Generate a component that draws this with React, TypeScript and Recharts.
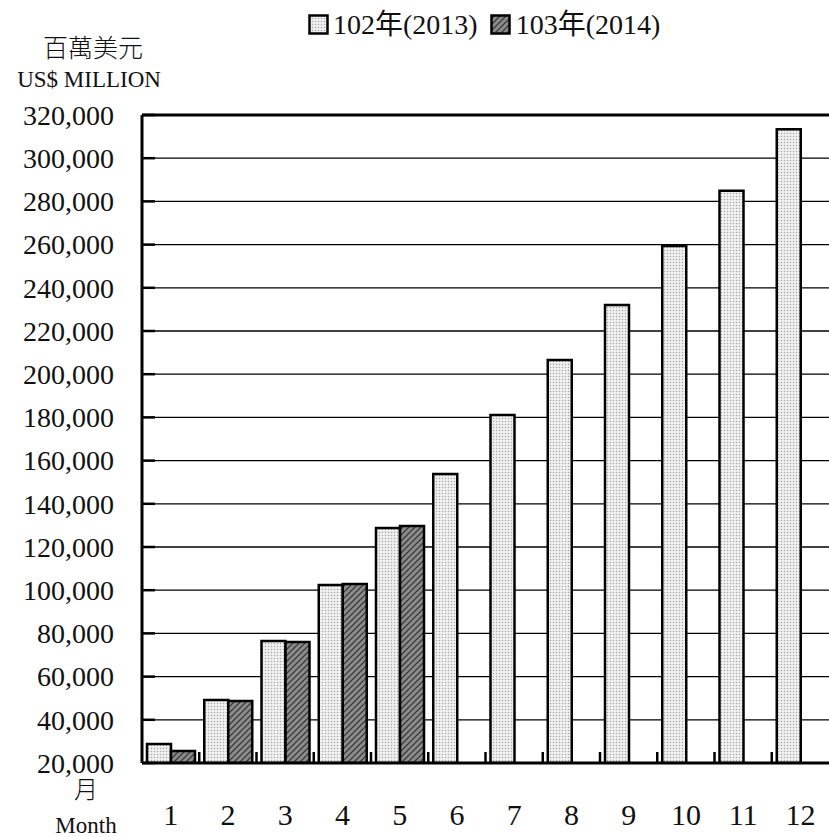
import { BarChart, Bar, XAxis, YAxis, CartesianGrid, ReferenceLine } from 'recharts';

const months = ['1', '2', '3', '4', '5', '6', '7', '8', '9', '10', '11', '12'];
const exports2013 = [28800, 49200, 76500, 102400, 128800, 153800, 181100, 206600, 232000, 259400, 284900, 313400];
const exports2014 = [25600, 48700, 76000, 102900, 129700];
const yTicks = [20000, 40000, 60000, 80000, 100000, 120000, 140000, 160000, 180000, 200000, 220000, 240000, 260000, 280000, 300000, 320000];

const data = months.map((m, i) => ({
  month: m,
  y2013: exports2013[i],
  y2014: i < exports2014.length ? exports2014[i] : null,
}));

const W = 829;
const H = 837;
const PLOT_LEFT = 142;
const band = (W - PLOT_LEFT) / months.length;
const FONT = "'Liberation Serif', 'Noto Sans CJK TC', serif";

function YTick({ y, payload }: any) {
  return (
    <g>
      <line x1={PLOT_LEFT} x2={PLOT_LEFT + 13} y1={y} y2={y} stroke="#000" strokeWidth={2.5} />
      <text x={PLOT_LEFT - 28} y={y} dy="0.35em" textAnchor="end" fontSize={28} fontFamily={FONT} fill="#111">
        {payload.value.toLocaleString('en-US')}
      </text>
    </g>
  );
}

function XTick({ x, payload, index }: any) {
  const axisY = H - 74;
  return (
    <g>
      {index < months.length - 1 && (
        <line x1={x + band / 2} x2={x + band / 2} y1={axisY} y2={axisY - 11} stroke="#000" strokeWidth={2.5} />
      )}
      <text x={x} y={axisY + 51} dy="0.35em" textAnchor="middle" fontSize={30} fontFamily={FONT} fill="#111">
        {payload.value}
      </text>
    </g>
  );
}

const label: React.CSSProperties = {
  position: 'absolute',
  fontFamily: FONT,
  color: '#111',
  whiteSpace: 'nowrap',
  lineHeight: 1,
  fontWeight: 300,
  transform: 'translate(-50%, -50%)',
};

function Swatch({ fill }: { fill: string }) {
  return (
    <svg width={21} height={21} style={{ display: 'inline-block', verticalAlign: 'middle' }}>
      <rect x={1.5} y={1.5} width={18} height={18} fill={fill} stroke="#000" strokeWidth={2.5} />
    </svg>
  );
}

export default function App() {
  return (
    <div style={{ position: 'absolute', left: 0, top: 0, width: W, height: H, background: '#fff' }}>
      <svg width={0} height={0} style={{ position: 'absolute' }}>
        <defs>
          <pattern id="dots" width={3} height={3} patternUnits="userSpaceOnUse">
            <rect width={3} height={3} fill="#f0f0f0" />
            <circle cx={1.5} cy={1.5} r={0.75} fill="#a8a8a8" />
          </pattern>
          <pattern id="hatch" width={6} height={6} patternUnits="userSpaceOnUse">
            <rect width={6} height={6} fill="#8c8c8c" />
            <path d="M0,6 L6,0 M-1.5,1.5 L1.5,-1.5 M4.5,7.5 L7.5,4.5" stroke="#3a3a3a" strokeWidth={1.3} />
          </pattern>
        </defs>
      </svg>

      <BarChart
        width={W}
        height={H}
        data={data}
        margin={{ top: 115, right: 0, bottom: 0, left: 0 }}
        barCategoryGap={5}
        barGap={0}
      >
        <CartesianGrid vertical={false} stroke="#000" strokeWidth={1.3} />
        <XAxis
          dataKey="month"
          height={74}
          axisLine={{ stroke: '#000', strokeWidth: 3 }}
          tickLine={false}
          tick={<XTick />}
          interval={0}
        />
        <YAxis
          width={PLOT_LEFT}
          domain={[20000, 320000]}
          ticks={yTicks}
          allowDataOverflow
          axisLine={{ stroke: '#000', strokeWidth: 3 }}
          tickLine={false}
          tick={<YTick />}
          interval={0}
        />
        <ReferenceLine y={320000} stroke="#000" strokeWidth={3} />
        <Bar dataKey="y2013" fill="url(#dots)" stroke="#000" strokeWidth={2.5} isAnimationActive={false} />
        <Bar dataKey="y2014" fill="url(#hatch)" stroke="#000" strokeWidth={2.5} isAnimationActive={false} />
      </BarChart>

      <div style={{ ...label, left: 93, top: 48, fontSize: 25 }}>百萬美元</div>
      <div style={{ ...label, left: 89, top: 79, fontSize: 23 }}>US$ MILLION</div>
      <div style={{ ...label, left: 86, top: 790, fontSize: 24 }}>月</div>
      <div style={{ ...label, left: 86, top: 825, fontSize: 23 }}>Month</div>

      <div style={{ position: 'absolute', left: 308, top: 8, fontFamily: FONT, fontSize: 28, lineHeight: '28px', whiteSpace: 'nowrap', color: '#111' }}>
        <Swatch fill="url(#dots)" />
        <span style={{ marginLeft: 4, verticalAlign: 'middle' }}>102年(2013)</span>
        <span style={{ marginLeft: 12 }} />
        <Swatch fill="url(#hatch)" />
        <span style={{ marginLeft: 5, verticalAlign: 'middle' }}>103年(2014)</span>
      </div>
    </div>
  );
}
